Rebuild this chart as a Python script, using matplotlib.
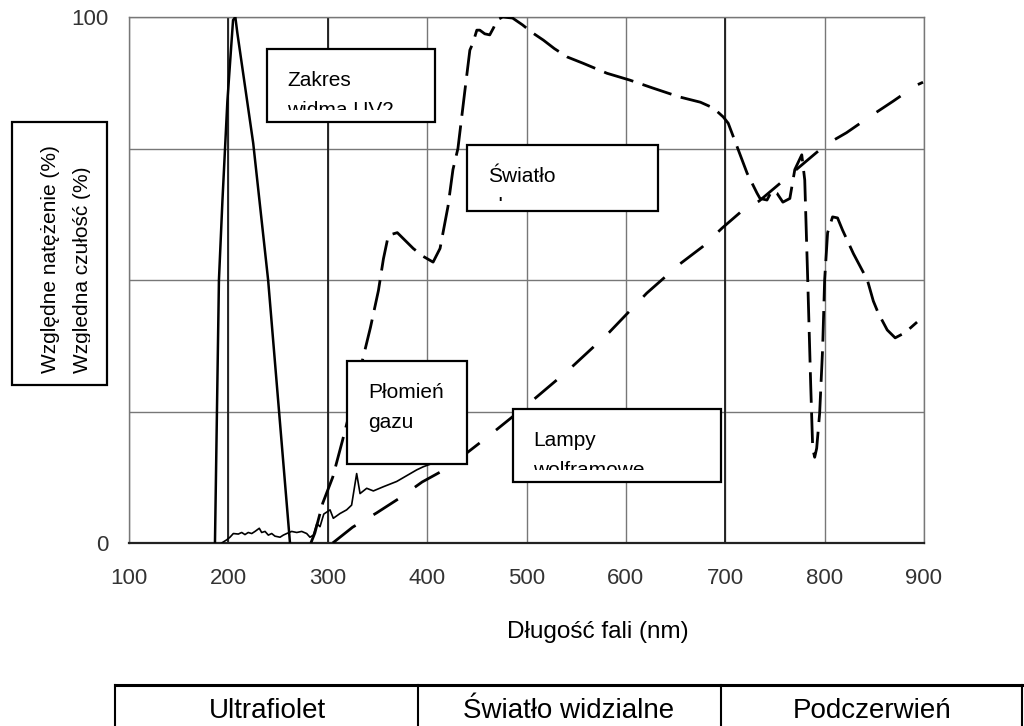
import matplotlib
matplotlib.use("Agg")
import matplotlib.pyplot as plt
from matplotlib.transforms import Affine2D, Bbox
from matplotlib.patches import Rectangle
from matplotlib.lines import Line2D

plt.rcParams['font.family'] = ['Liberation Sans', 'DejaVu Sans']

# ---------------- data ----------------
x_ticks = [100, 200, 300, 400, 500, 600, 700, 800, 900]
y_ticks = [0, 25, 50, 75, 100]
y_tick_labels = ['0', '', '', '', '100']

# UV sensor spectral range (solid)
uv_x = [186.5, 190.5, 194, 199, 204.7, 207, 209, 225, 240, 251, 262]
uv_y = [0, 50, 65, 84, 99.4, 100, 97, 76, 50, 25, 0]

# Gas flame (thin noisy solid)
flame_x = [193.3, 198.3, 201.6, 205, 210, 213.4, 216.7, 220, 223.5, 226.8, 231.1, 233.5,
           236.9, 240.2, 243.6, 246.9, 252, 255.3, 258.7, 263.7, 268.8, 273.8, 278.8,
           282.1, 285.5, 289, 292.2, 296, 302.3, 305.6, 312.3, 319, 324, 329.1, 332.5,
           339.2, 345.9, 356, 369.4, 389.5, 396.2, 425]
flame_y = [0, 0.6, 1.1, 1.8, 1.7, 2.0, 1.6, 2.0, 1.8, 2.2, 2.8, 2.0,
           2.2, 1.5, 1.8, 1.3, 1.1, 1.5, 1.8, 2.2, 2.0, 2.2, 1.8,
           1.1, 1.5, 3.7, 3.1, 5.5, 6.3, 4.7, 5.6, 6.3, 7.2, 13.2, 9.4,
           10.4, 9.9, 10.7, 11.7, 13.9, 14.5, 16.5]

# Sunlight (long dashes)
sun_x = [283, 287, 295, 305, 315, 325, 335, 343, 351, 356, 361, 370, 378, 386, 396, 406,
         413, 421, 426, 431, 438, 443, 446, 450, 453, 458, 463, 467, 470, 476, 486, 496,
         506, 517, 528, 541, 557, 581, 604, 627, 654, 675, 688, 698, 703, 712, 722, 732,
         735, 742, 747, 752, 758, 765, 770, 777, 780, 783, 786, 788, 790, 792, 795, 798,
         800, 803, 808, 813, 818, 829, 843, 849, 854, 863, 871, 881, 893]
sun_y = [0, 1.9, 7.6, 12.5, 19.6, 27, 34.8, 41, 48, 54, 58.5, 59, 57.5, 56, 54.5, 53.4,
         56, 64, 71, 75, 86, 93.7, 95, 97.5, 97.5, 96.8, 96.6, 98, 99.4, 100, 99.8, 98.5,
         97, 95.6, 94, 92.4, 91.2, 89.3, 88, 86.5, 84.8, 83.8, 82.7, 81, 79.8, 75.3, 70.3, 66.5,
         65.5, 65.2, 67, 66.5, 64.8, 65.5, 71, 73.8, 69, 50, 30, 18, 16.3, 18, 24.7, 37,
         50, 59, 62, 61.8, 59.5, 55, 50, 46, 43.7, 40.5, 39, 40, 42]

# Tungsten lamps (dashed, nearly straight)
lamp_x = [305, 325, 349, 372, 395, 420, 463, 503, 543, 583, 621, 654, 677, 697, 716, 734,
          801, 822, 845, 869, 892, 899]
lamp_y = [0, 3, 5.7, 8.5, 11.6, 14.2, 20.5, 26.6, 33, 40, 47.5, 53, 56.3, 59.9, 63, 65,
          75.7, 78, 81, 84, 87, 87.6]

x_label = 'Długość fali (nm)'
y_label_lines = ['Względne natężenie (%)', 'Wzgledna czułość (%)']
box_labels = [('Zakres', 'widma UV2'), ('Światło', 'słoneczne'),
              ('Płomień', 'gazu'), ('Lampy', 'wolframowe')]
bands = ['Ultrafiolet', 'Światło widzialne', 'Podczerwień']

# ---------------- figure ----------------
W, H = 1024, 726
fig = plt.figure(figsize=(W / 100, H / 100), dpi=100)
pix = Affine2D().scale(1 / W, -1 / H).translate(0, 1) + fig.transFigure


def cbox(x0, y0, x1, y1):
    return Bbox.from_extents(x0, H - y1, x1, H - y0)


ax = fig.add_axes([129 / W, (H - 543) / H, 795 / W, 526 / H])
ax.set_xlim(100, 900)
ax.set_ylim(0, 100)
ax.set_xticks(x_ticks)
ax.set_xticklabels([str(v) for v in x_ticks])
ax.set_yticks(y_ticks)
ax.set_yticklabels(y_tick_labels)
ax.tick_params(length=0, labelsize=16, labelcolor='#333333')
ax.tick_params(axis='x', pad=18)
ax.tick_params(axis='y', pad=15)
ax.grid(True, color='#777777', lw=1.0)
ax.set_axisbelow(True)
for xv in (200, 300, 700):
    ax.axvline(xv, color='#1a1a1a', lw=1.3, zorder=1)
for s in ('left', 'top', 'right'):
    ax.spines[s].set_color('#777777')
    ax.spines[s].set_linewidth(1.0)
ax.spines['bottom'].set_color('#222222')
ax.spines['bottom'].set_linewidth(1.6)

ax.plot(uv_x, uv_y, color='black', lw=1.8, solid_joinstyle='miter', zorder=3)
ax.plot(flame_x, flame_y, color='black', lw=1.2, zorder=3)
ax.plot(sun_x, sun_y, color='black', lw=2.0, dashes=(11, 3.5), zorder=3)
ax.plot(lamp_x, lamp_y, color='black', lw=2.0, dashes=(10.4, 7.5), zorder=3)

# ---------------- annotation boxes ----------------
FS = 15
box_geom = [
    # box x0, y0, x1, y1, text x, baseline1, clip y (bottom)
    (267, 49, 435, 122, 287, 86, 110),
    (467, 145, 658, 211, 488, 182, 201),
    (347, 361, 467, 464, 368, 398, None),
    (513, 409, 721, 482, 533, 446, 470),
]
for (x0, y0, x1, y1, tx, b1, clip), (l1, l2) in zip(box_geom, box_labels):
    fig.add_artist(Rectangle((x0, y0), x1 - x0, y1 - y0, transform=pix,
                             facecolor='white', edgecolor='black', lw=1.6, zorder=5))
    fig.text(tx, b1, l1, transform=pix, fontsize=FS, ha='left', va='baseline', zorder=6)
    t2 = fig.text(tx, b1 + 30, l2, transform=pix, fontsize=FS, ha='left', va='baseline', zorder=6)
    if clip is not None:
        t2.set_clip_box(cbox(x0 + 1, y0 + 1, x1 - 1, clip))
        t2.set_clip_on(True)

# y-label box
fig.add_artist(Rectangle((12, 122), 95, 263, transform=pix,
                         facecolor='white', edgecolor='black', lw=1.6, zorder=5))
fig.text(56, 373, y_label_lines[0], transform=pix, fontsize=FS, rotation=90,
         rotation_mode='anchor', ha='left', va='baseline', zorder=6)
ty2 = fig.text(88, 373, y_label_lines[1], transform=pix, fontsize=FS, rotation=90,
               rotation_mode='anchor', ha='left', va='baseline', zorder=6)
ty2.set_clip_box(cbox(13, 123, 89.5, 384))
ty2.set_clip_on(True)

# x label
fig.text(598, 638, x_label, transform=pix, fontsize=17.5, ha='center', va='baseline')

# ---------------- bottom band table ----------------
fig.add_artist(Line2D([115, 1024], [685, 685], transform=pix, color='black', lw=2.2))
for xv in (115, 418, 721, 1022):
    fig.add_artist(Line2D([xv, xv], [685, 726], transform=pix, color='black', lw=1.5))
for cx, lab in zip((267, 569, 872), bands):
    fig.text(cx, 718, lab, transform=pix, fontsize=20, ha='center', va='baseline')

fig.savefig('out.png', dpi=100)
